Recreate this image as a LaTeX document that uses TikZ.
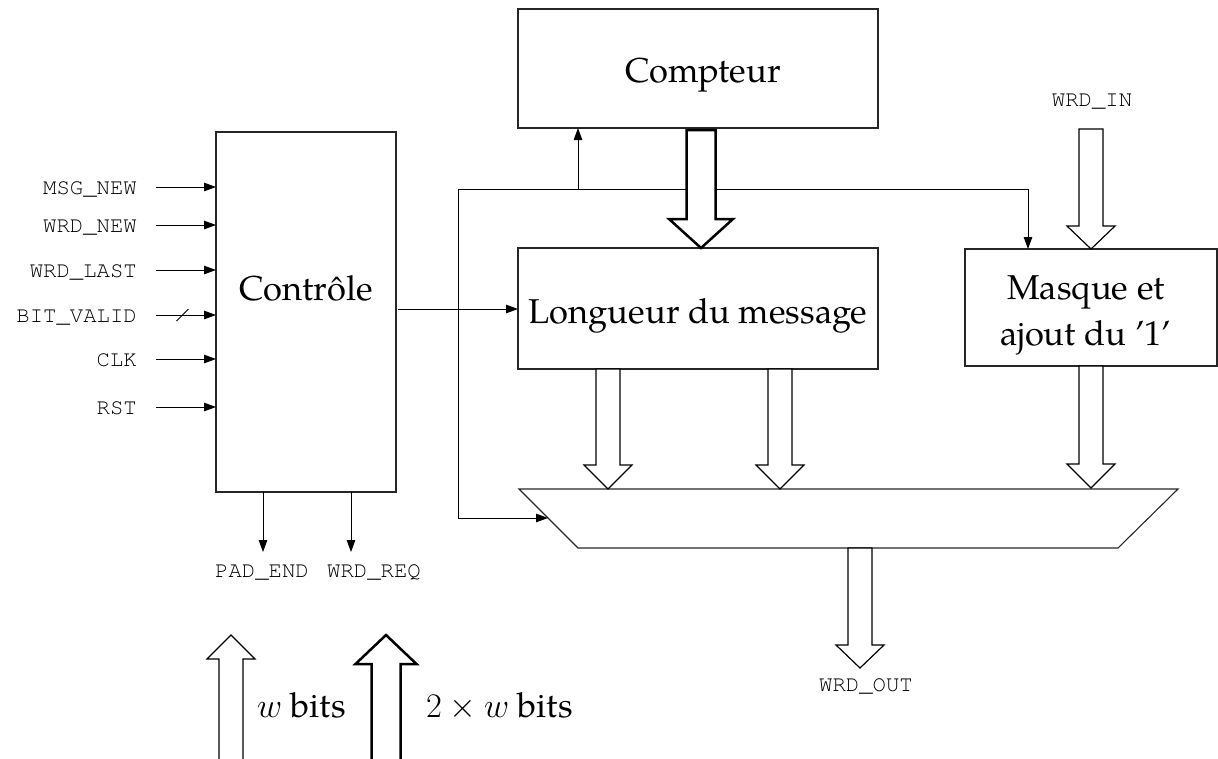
\RequirePackage{fix-cm}
\documentclass[tikz,border=0pt]{standalone}
\usepackage{fontspec}
\setmainfont{TeX Gyre Pagella}
\setmonofont{TeX Gyre Cursor}
\usetikzlibrary{arrows.meta,calc}
\newcommand{\busdown}[6]{%
  \draw[#1] let \p1=(#2), \p2=(#3) in
    (\x2-#4pt,\y1) -- (\x2-#4pt,\y2+#6pt) -- (\x2-#5pt,\y2+#6pt) -- (\x2,\y2)
    -- (\x2+#5pt,\y2+#6pt) -- (\x2+#4pt,\y2+#6pt) -- (\x2+#4pt,\y1) -- cycle;}
\newcommand{\busup}[6]{%
  \draw[#1] let \p1=(#2), \p2=(#3) in
    (\x2-#4pt,\y1) -- (\x2-#4pt,\y2-#6pt) -- (\x2-#5pt,\y2-#6pt) -- (\x2,\y2)
    -- (\x2+#5pt,\y2-#6pt) -- (\x2+#4pt,\y2-#6pt) -- (\x2+#4pt,\y1) -- cycle;}
\begin{document}
\begin{tikzpicture}[x=1pt,y=-1pt,
  blk/.style={draw=black!85,line width=1.1pt,inner sep=0pt,outer sep=0pt},
  big/.style={font=\fontsize{34.5}{41}\selectfont},
  sig/.style={font=\fontsize{22.3}{26}\selectfont\ttfamily,inner sep=0pt},
  wire/.style={line width=1pt},
  conn/.style={wire,-{Triangle[length=12pt,width=8.5pt]}},
  thinbus/.style={draw=black,fill=white,line width=1.2pt,line join=miter},
  thickbus/.style={draw=black,fill=white,line width=2.5pt,line join=miter}]
\useasboundingbox (0,0) rectangle (1218,758);

% blocks
\node[blk,minimum width=180pt,minimum height=360pt] (ctrl) at (306,312) {};
\node[big,anchor=base] (ctrltxt) at (306,300) {Contrôle};
\node[blk,minimum width=360pt,minimum height=119pt] (cpt) at (698,68.5) {};
\node[big,anchor=base] (cpttxt) at (703,82) {Compteur};
\node[blk,minimum width=360pt,minimum height=121pt] (lng) at (698,308.5) {};
\node[big,anchor=base] (lngtxt) at (698,323) {Longueur du message};
\node[blk,minimum width=252pt,minimum height=117pt] (msk) at (1091,307.5) {};
\node[big,anchor=base] (msktxt1) at (1086,299) {Masque et};
\node[big,anchor=base] (msktxt2) at (1086,345) {ajout du ’1’};

% multiplexer
\coordinate (mtl) at (519,489);
\coordinate (mtr) at (1178,489);
\coordinate (mbr) at (1118,548);
\coordinate (mbl) at (578,548);
\draw[draw=black!85,line width=1.1pt] (mtl) -- (mtr) -- (mbr) -- (mbl) -- cycle;

% inputs of control
\foreach \n/\y/\t in {1/187/MSG\_NEW,2/225/WRD\_NEW,3/270/WRD\_LAST,4/315/BIT\_VALID,5/359/CLK,6/407/RST}{
  \coordinate (i\n) at (156,\y);
  \node[sig,anchor=base east] (l\n) at (137,\y+7.5) {\t};
  \draw[conn] (i\n) -- (i\n -| ctrl.west);
}
\draw[wire] (176.5,321) -- (188.5,309);

% outputs of control
\coordinate (o1) at (263,552);
\coordinate (o2) at (351,552);
\draw[conn] (o1 |- ctrl.south) -- (o1);
\draw[conn] (o2 |- ctrl.south) -- (o2);
\node[sig,anchor=base] (padend) at (262,577) {PAD\_END};
\node[sig,anchor=base] (wrdreq) at (374,577) {WRD\_REQ};

% control -> length
\coordinate (co) at (398,309);
\draw[conn] (co) -- (co -| lng.west);

% feedback net
\coordinate (fb) at (458,189);
\coordinate (fc) at (578,189);
\coordinate (fm) at (1028,189);
\coordinate (muxin) at (548,518);
\draw[wire] (fb) -- (fm);
\draw[conn] (fm) -- (fm |- msk.north);
\draw[conn] (fc) -- (fc |- cpt.south);
\draw[conn] (fb) |- (muxin);

% buses
\coordinate (cs) at (701,130);
\coordinate (ln) at (701,248);
\busdown{thickbus}{cs}{ln}{14.5}{32}{29}
\coordinate (wi) at (1091,129);
\node[sig,anchor=base] (wrdin) at (1092,106) {WRD\_IN};
\busdown{thinbus}{wi}{msk.north}{12}{24}{23}
\coordinate (m1) at (608,489);
\coordinate (m2) at (780,489);
\coordinate (m3) at (1091,488);
\busdown{thinbus}{lng.south}{m1}{12}{24}{24}
\busdown{thinbus}{lng.south}{m2}{12}{24}{24}
\busdown{thinbus}{msk.south}{m3}{12}{24}{24}
\coordinate (ms) at (860,548);
\coordinate (wo) at (860,668);
\busdown{thinbus}{ms}{wo}{12}{24}{23}
\node[sig,anchor=base] (wrdout) at (866,691) {WRD\_OUT};

% legend
\coordinate (lb1) at (231,762);
\coordinate (lt1) at (231,635);
\coordinate (lb2) at (386,762);
\coordinate (lt2) at (386,635);
\busup{thinbus}{lb1}{lt1}{12}{24}{24}
\busup{thickbus}{lb2}{lt2}{14.5}{30.5}{29}
\node[big,anchor=base west,inner sep=0pt] (leg1) at (257,717) {$w$ bits};
\node[big,anchor=base west,inner sep=0pt] (leg2) at (426,717) {$2\times w$ bits};
\end{tikzpicture}
\end{document}
